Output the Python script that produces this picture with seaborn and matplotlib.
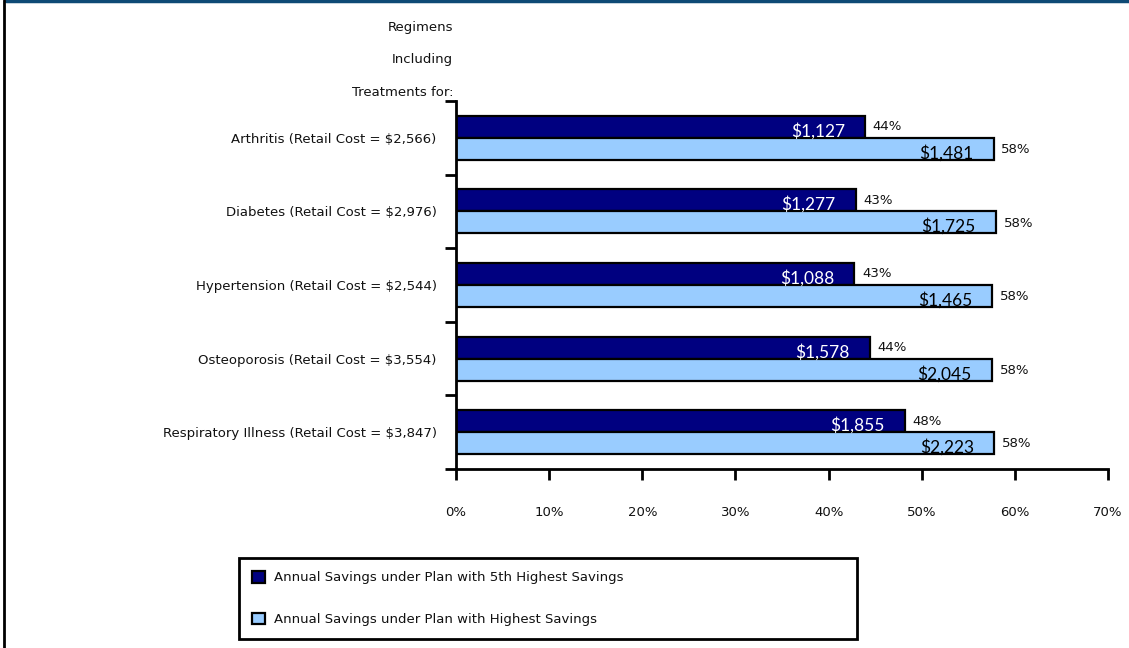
import matplotlib
matplotlib.use("Agg")
import matplotlib.pyplot as plt
from matplotlib.lines import Line2D
from matplotlib.ticker import FixedLocator
import seaborn as sns
import pandas as pd

# ---- data ----
categories = [
    "Arthritis (Retail Cost = $2,566)",
    "Diabetes (Retail Cost = $2,976)",
    "Hypertension (Retail Cost = $2,544)",
    "Osteoporosis (Retail Cost = $3,554)",
    "Respiratory Illness (Retail Cost = $3,847)",
]
retail_cost = [2566, 2976, 2544, 3554, 3847]
savings_5th = [1127, 1277, 1088, 1578, 1855]
savings_high = [1481, 1725, 1465, 2045, 2223]
pct_5th_labels = ["44%", "43%", "43%", "44%", "48%"]
pct_high_labels = ["58%", "58%", "58%", "58%", "58%"]
series_names = [
    "Annual Savings under Plan with 5th Highest Savings",
    "Annual Savings under Plan with Highest Savings",
]
x_ticks = [0, 10, 20, 30, 40, 50, 60, 70]
x_tick_labels = ["0%", "10%", "20%", "30%", "40%", "50%", "60%", "70%"]
title_lines = ["Regimens", "Including", "Treatments for:"]

colors = ["#000080", "#99CCFF"]

rows = []
for c, r, a, b in zip(categories, retail_cost, savings_5th, savings_high):
    rows.append({"cat": c, "series": series_names[0], "pct": a / r * 100, "usd": a})
    rows.append({"cat": c, "series": series_names[1], "pct": b / r * 100, "usd": b})
df = pd.DataFrame(rows)

sns.set_style("white")
plt.rcParams["font.family"] = ["DejaVu Sans"]

W, H = 1129, 648
fig = plt.figure(figsize=(W / 100, H / 100), dpi=100)
ax = fig.add_axes([456 / W, 1 - 469 / H, (1108 - 456) / W, (469 - 101) / H])

sns.barplot(data=df, y="cat", x="pct", hue="series", orient="h",
            palette=colors, saturation=1, edgecolor="black", linewidth=1.6,
            width=0.6, ax=ax, errorbar=None)

ax.set_xlim(0, 70)
ax.set_ylim(len(categories) - 0.5, -0.5)
ax.set_xlabel("")
ax.set_ylabel("")

for s in ["top", "right"]:
    ax.spines[s].set_visible(False)
for s in ["left", "bottom"]:
    ax.spines[s].set_color("black")
    ax.spines[s].set_linewidth(2)

ax.set_xticks(x_ticks)
ax.set_xticklabels(x_tick_labels)
ax.tick_params(axis="x", bottom=True, direction="out", length=8, width=2, color="black",
               pad=19, labelsize=9.5, labelcolor="#111111")

bounds = [i - 0.5 for i in range(len(categories) + 1)]
ax.set_yticks(bounds)
ax.set_yticklabels([""] * len(bounds))
ax.yaxis.set_minor_locator(FixedLocator(list(range(len(categories)))))
ax.set_yticks(list(range(len(categories))), labels=categories, minor=True)
ax.tick_params(axis="y", which="major", left=True, direction="out", length=8, width=2, color="black")
ax.tick_params(axis="y", which="minor", left=True, length=0, pad=14, labelsize=9.5, labelcolor="#111111")

# value and percentage labels
usd_lists = [savings_5th, savings_high]
pct_lists = [pct_5th_labels, pct_high_labels]
for j, cont in enumerate(ax.containers):
    for i, p in enumerate(cont.patches):
        xend = p.get_width()
        yc = p.get_y() + p.get_height() / 2
        ax.annotate(f"${usd_lists[j][i]:,}", (xend, yc), xytext=(-14.5, -3),
                    textcoords="offset points", ha="right", va="center",
                    fontsize=12.5, family="Lato",
                    color="white" if j == 0 else "black")
        ax.annotate(pct_lists[j][i], (xend, yc), xytext=(5.5, 0 if j == 0 else -0.5),
                    textcoords="offset points", ha="left", va="center",
                    fontsize=9.5, color="#111111")

# legend
handles, labels = ax.get_legend_handles_labels()
if ax.legend_:
    ax.legend_.remove()
leg = fig.legend(handles, labels, loc="upper left",
                 bbox_to_anchor=(239 / W, 1 - 639 / H, (857 - 239) / W, (639 - 558) / H),
                 mode="expand", frameon=True, fancybox=False, framealpha=1,
                 edgecolor="black", fontsize=9.5, borderpad=1.0,
                 labelspacing=2.15, handlelength=0.95, handleheight=0.95,
                 handletextpad=0.7, borderaxespad=0)
leg.get_frame().set_linewidth(2)
for t in leg.get_texts():
    t.set_color("#111111")

# stub title
for k, line in enumerate(title_lines):
    fig.text(453 / W, 1 - [27, 60, 93][k] / H, line, ha="right", va="center",
             fontsize=9.5, color="#111111")

# page borders
fig.add_artist(Line2D([6 / W, 1], [1 - 1 / H, 1 - 1 / H], color="#0E4A75", lw=2.5))
fig.add_artist(Line2D([4 / W, 4 / W], [0, 1], color="black", lw=2))

fig.savefig("out.png", dpi=100)
